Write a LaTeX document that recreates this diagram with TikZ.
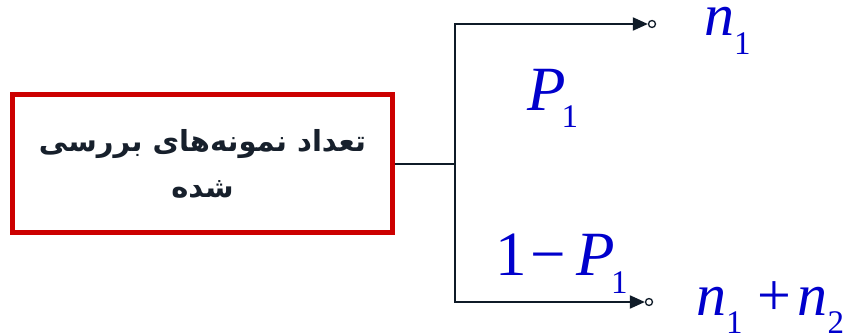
\documentclass[tikz,border=0pt]{standalone}
\usepackage{fontspec}
\setmainfont{Liberation Serif}
\newfontfamily\arabicfont[Script=Arabic]{DejaVu Sans}
\TeXXeTstate=1
\usetikzlibrary{arrows.meta}
\definecolor{linec}{HTML}{0F1B28}
\definecolor{boxred}{HTML}{CC0000}
\definecolor{labblue}{HTML}{0000CC}
\definecolor{txtc}{HTML}{17202C}
\newcommand\Bsz{\fontsize{63}{70}\selectfont}
\newcommand\Nsz{\fontsize{60}{70}\selectfont}
\newcommand\Ssz{\fontsize{33}{36}\selectfont}
\newcommand\Sb[2][18pt]{\lower #1\hbox{\Ssz #2}}
\tikzset{
  conn/.style={draw=linec, line width=2pt},
  arr/.style={conn, -{Triangle[length=15pt,width=13pt]}},
  term/.style={circle, draw=linec, fill=white, line width=1.3pt, inner sep=0pt, minimum size=7pt},
  lab/.style={text=labblue, anchor=base west, inner sep=0pt},
  redbox/.style={draw=boxred, line width=5pt, minimum width=380pt, minimum height=138pt, inner sep=0pt,
     text=txtc, align=center, font=\arabicfont\bfseries\fontsize{29}{46}\selectfont}
}
\begin{document}
\begin{tikzpicture}[x=1pt,y=-1pt]
\useasboundingbox (0,0) rectangle (866,332);
\node[redbox] (box) at (202.5,163.5) {\beginR تعداد نمونه‌های بررسی\endR\\\beginR شده\endR};
\coordinate (j) at (455,163.5);
\node[term] (t) at (652,24) {};
\node[term] (b) at (649,302) {};
\draw[conn] (box.east) -- (j);
\draw[arr] (j) |- (t);
\draw[arr] (j) |- (b);
\node[lab] (n1) at (704,35) {\Nsz\textit{n}\Sb[19pt]{1}};
\node[lab] (p1) at (527,110) {\Bsz\textit{P}\hspace{-4pt}\Sb[17pt]{1}};
\node[lab] (q1) at (495,275) {\Bsz 1\hspace{3.5pt}−\hspace{11pt}\textit{P}\hspace{-4pt}\Sb{1}};
\node[lab] (n12) at (696,315) {\Nsz\textit{n}\Sb{1}\hspace{15pt}+\hspace{6pt}\textit{n}\Sb{2}};
\end{tikzpicture}
\end{document}
